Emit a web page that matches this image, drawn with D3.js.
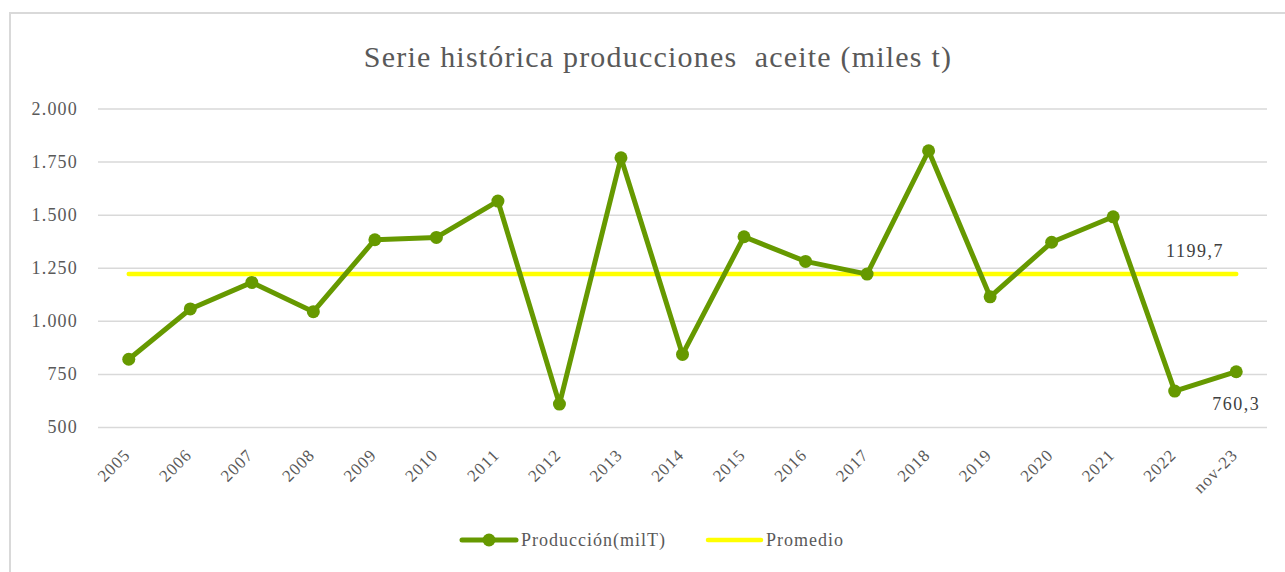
<!DOCTYPE html>
<html>
<head>
<meta charset="utf-8">
<script src="https://cdn.jsdelivr.net/npm/d3@7"></script>
<style>
  body { margin: 0; background: #fff; }
  svg { display: block; }
</style>
</head>
<body>
<div id="chart"></div>
<script>
// datos
const categories = ["2005", "2006", "2007", "2008", "2009", "2010", "2011", "2012", "2013", "2014",
  "2015", "2016", "2017", "2018", "2019", "2020", "2021", "2022", "nov-23"];
const produccion = [819, 1056, 1181, 1043, 1382, 1393, 1564, 608, 1768, 842,
  1396, 1280, 1220, 1801, 1113, 1370, 1490, 669, 760.3];
const promedio = 1220;          // posicion de la linea tal como se ve
const promedioLabel = "1199,7"; // texto que muestra el grafico
const yTicks = [500, 750, 1000, 1250, 1500, 1750, 2000];
const seriesNames = ["Producción(milT)", "Promedio"];

const W = 1285, H = 572;
const font = "Liberation Serif, Times New Roman, serif";
const green = "#669900", yellow = "#ffff00";
const gridColor = "#d9d9d9", textColor = "#595959", labelColor = "#404040";

const es = d3.formatLocale({ decimal: ",", thousands: ".", grouping: [3], currency: ["", "€"] });
const fmtTick = es.format(",d");
const fmtVal = es.format(".1f");

const svg = d3.select("#chart").append("svg")
  .attr("width", W)
  .attr("height", H)
  .attr("font-family", font);

// marco del grafico
svg.append("rect")
  .attr("x", 10).attr("y", 13)
  .attr("width", W + 20).attr("height", H + 20)
  .attr("fill", "none")
  .attr("stroke", gridColor)
  .attr("stroke-width", 2);

svg.append("text")
  .attr("x", 658).attr("y", 67)
  .attr("text-anchor", "middle")
  .attr("fill", textColor)
  .attr("font-size", 30)
  .attr("letter-spacing", 1.2)
  .style("white-space", "pre")
  .text("Serie histórica producciones  aceite (miles t)");

const x = d3.scalePoint().domain(categories).range([98, 1267]).padding(0.5);
const y = d3.scaleLinear().domain([500, 2000]).range([427, 108.5]);

// rejilla y eje y
const yAxis = svg.append("g")
  .attr("transform", "translate(98,0)")
  .call(d3.axisLeft(y).tickValues(yTicks).tickFormat(fmtTick).tickSize(-(1267 - 98)).tickPadding(20));
yAxis.select(".domain").remove();
yAxis.selectAll(".tick line").attr("stroke", gridColor).attr("stroke-width", 1.5);
yAxis.selectAll(".tick text")
  .attr("fill", textColor)
  .attr("font-size", 18)
  .attr("letter-spacing", 1.2)
  .attr("font-family", font);

const xAxis = svg.append("g")
  .attr("transform", `translate(0,${y(500)})`)
  .call(d3.axisBottom(x).tickSize(0).tickPadding(0));
xAxis.select(".domain").remove();
xAxis.selectAll(".tick text")
  .attr("fill", textColor)
  .attr("text-anchor", "end")
  .attr("y", 0)
  .attr("dy", 0)
  .attr("transform", "translate(2,29) rotate(-45)")
  .attr("font-size", 17)
  .attr("letter-spacing", 1)
  .attr("font-family", font);

// linea de promedio
svg.append("line")
  .attr("x1", x(categories[0])).attr("x2", x(categories[categories.length - 1]))
  .attr("y1", y(promedio)).attr("y2", y(promedio))
  .attr("stroke", yellow)
  .attr("stroke-width", 4.5)
  .attr("stroke-linecap", "round");

// serie de produccion
const line = d3.line()
  .x((d, i) => x(categories[i]))
  .y(d => y(d));

svg.append("path")
  .datum(produccion)
  .attr("fill", "none")
  .attr("stroke", green)
  .attr("stroke-width", 5)
  .attr("stroke-linejoin", "round")
  .attr("d", line);

svg.append("g").selectAll("circle")
  .data(produccion)
  .join("circle")
  .attr("cx", (d, i) => x(categories[i]))
  .attr("cy", d => y(d))
  .attr("r", 6.5)
  .attr("fill", green);

// etiquetas de datos
svg.append("text")
  .attr("x", 1195).attr("y", y(promedio) - 17)
  .attr("text-anchor", "middle")
  .attr("fill", labelColor)
  .attr("font-size", 18)
  .attr("letter-spacing", 1.5)
  .text(promedioLabel);

const last = produccion.length - 1;
svg.append("text")
  .attr("x", x(categories[last])).attr("y", y(produccion[last]) + 38)
  .attr("text-anchor", "middle")
  .attr("fill", labelColor)
  .attr("font-size", 18)
  .attr("letter-spacing", 1.5)
  .text(fmtVal(produccion[last]));

// leyenda
const legend = svg.append("g").attr("transform", "translate(0,540)");
legend.append("line")
  .attr("x1", 462).attr("x2", 516)
  .attr("stroke", green).attr("stroke-width", 5).attr("stroke-linecap", "round");
legend.append("circle").attr("cx", 489).attr("r", 6.5).attr("fill", green);
legend.append("text")
  .attr("x", 521).attr("dy", "0.32em")
  .attr("fill", textColor).attr("font-size", 18).attr("letter-spacing", 1)
  .text(seriesNames[0]);
legend.append("line")
  .attr("x1", 708).attr("x2", 761)
  .attr("stroke", yellow).attr("stroke-width", 4.5).attr("stroke-linecap", "round");
legend.append("text")
  .attr("x", 766).attr("dy", "0.32em")
  .attr("fill", textColor).attr("font-size", 18).attr("letter-spacing", 1)
  .text(seriesNames[1]);
</script>
</body>
</html>
